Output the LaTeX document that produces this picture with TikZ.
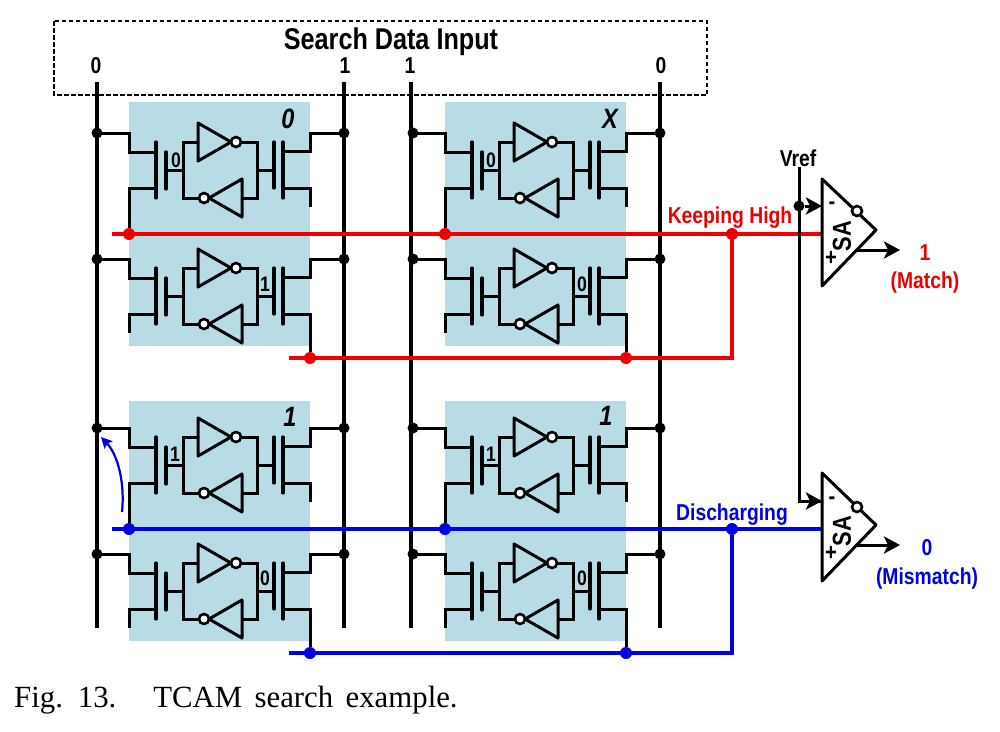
\documentclass[tikz,border=0pt]{standalone}
\usepackage{fontspec}
\usepackage{xcolor}
\usetikzlibrary{arrows.meta,positioning,calc}
\newfontfamily\labelfont{Liberation Sans}[FakeStretch=0.84]
\newfontfamily\captionfont{Liberation Serif}[WordSpace=1.6]
\definecolor{cellblue}{HTML}{B7DCE6}
\definecolor{mlred}{HTML}{EE0000}
\definecolor{mlblue}{HTML}{0000E6}

\tikzset{
    wire/.style={line width=3pt, line join=miter},
    rail/.style={line width=3.3pt},
    gatebar/.style={line width=3.2pt, line cap=round},
    bubble/.style={circle, draw, fill=white, line width=2.6pt, minimum size=10pt, inner sep=0pt},
    dotk/.style={circle, fill=black, minimum size=11pt, inner sep=0pt},
    dotr/.style={circle, fill=mlred, minimum size=12pt, inner sep=0pt},
    dotb/.style={circle, fill=mlblue, minimum size=12pt, inner sep=0pt},
    arr/.style={-{Stealth[length=16pt, width=17pt, inset=4pt]}, wire},
    redln/.style={line width=3.4pt, draw=mlred},
    bluln/.style={line width=3.4pt, draw=mlblue},
    txt/.style={inner sep=0pt, font=\labelfont\bfseries\fontsize{23}{25}\selectfont},
    bit/.style={inner sep=0pt, font=\labelfont\bfseries\fontsize{23}{25}\selectfont},
    stored/.style={inner sep=0pt, font=\labelfont\bfseries\fontsize{21}{23}\selectfont},
    care/.style={inner sep=0pt, font=\labelfont\bfseries\itshape\fontsize{28}{30}\selectfont},
    sign/.style={inner sep=0pt, font=\labelfont\bfseries\fontsize{24}{26}\selectfont},
    samp/.style={inner sep=0pt, rotate=90, font=\labelfont\bfseries\fontsize{26}{28}\selectfont},
    tcamhalf/.pic={
        % left access transistor
        \node[dotk] (-bl) at (0,0) {};
        \coordinate (-ls) at (32,74);
        \draw[wire] (-bl.center) -- (32,0) -- (32,19) -- (59,19);
        \draw[wire] (59,55) -- (32,55) -- (-ls);
        \draw[gatebar] (59,9) -- (59,65);
        \draw[gatebar] (69,19) -- (69,56);
        \draw[wire] (69,37.5) -- (86,37.5);
        % storage
        \draw[wire] (101,9) -- (86,9) -- (86,65) -- (102,65);
        \draw[wire, line join=round] (101,-10) -- (101,28) -- (134,9) -- cycle;
        \draw[wire, line join=round] (145,46) -- (145,84) -- (112,65) -- cycle;
        \draw[wire] (144,9) -- (160,9) -- (160,65) -- (145,65);
        \node[bubble] (-qa) at (139,9) {};
        \node[bubble] (-qb) at (107,65) {};
        % right access transistor
        \node[dotk] (-br) at (247,0) {};
        \coordinate (-rs) at (213,74);
        \draw[wire] (160,37) -- (177,37);
        \draw[gatebar] (177,9) -- (177,55);
        \draw[gatebar] (186,9) -- (186,65);
        \draw[wire] (186,18) -- (213,18) -- (213,0) -- (-br.center);
        \draw[wire] (186,55) -- (213,55) -- (-rs);
    },
    x=1pt, y=-1pt
}

\begin{document}
\begin{tikzpicture}
    \useasboundingbox (0,0) rectangle (1000,731);

    % Cell backgrounds
    \fill[cellblue] (129,102) rectangle (310,346);
    \fill[cellblue] (445,102) rectangle (626,346);
    \fill[cellblue] (129,401) rectangle (310,641);
    \fill[cellblue] (445,401) rectangle (626,641);

    % Search data
    \draw[line width=2pt, dash pattern=on 4.5pt off 2.5pt] (54,21) rectangle (707,95);
    \node[txt, font=\labelfont\bfseries\fontsize{30}{32}\selectfont] (title) at (391,42) {Search Data Input};
    \node[bit] (d1) at (96,66) {0};
    \node[bit] (d2) at (345,66) {1};
    \node[bit] (d3) at (410,66) {1};
    \node[bit] (d4) at (661,66) {0};

    % Bit lines
    \coordinate (e1) at (97,628);
    \coordinate (e2) at (344,628);
    \coordinate (e3) at (411,628);
    \coordinate (e4) at (660,628);
    \draw[rail] (97,82) -- (e1);
    \draw[rail] (344,82) -- (e2);
    \draw[rail] (411,82) -- (e3);
    \draw[rail] (660,82) -- (e4);

    % Cells
    \pic (at) at (97,133) {tcamhalf};
    \pic (ab) at (97,259) {tcamhalf};
    \pic (bt) at (413,133) {tcamhalf};
    \pic (bb) at (413,259) {tcamhalf};
    \pic (ct) at (97,428) {tcamhalf};
    \pic (cb) at (97,554) {tcamhalf};
    \pic (dt) at (413,428) {tcamhalf};
    \pic (db) at (413,554) {tcamhalf};

    % Stored bits
    \node[stored] (s1) at (176,160) {0};
    \node[stored] (s2) at (265,284) {1};
    \node[stored] (s3) at (491,160) {0};
    \node[stored] (s4) at (582,284) {0};
    \node[stored] (s5) at (175,454) {1};
    \node[stored] (s6) at (265,578) {0};
    \node[stored] (s7) at (491,454) {1};
    \node[stored] (s8) at (582,578) {0};
    \node[care] (v1) at (288,119) {0};
    \node[care] (v2) at (610,119) {X};
    \node[care] (v3) at (290,417) {1};
    \node[care] (v4) at (606,416) {1};

    % Sense amps
    \coordinate (sa1a) at (822,179);
    \coordinate (sa1b) at (822,286);
    \coordinate (sa1c) at (876,230);
    \coordinate (sa2a) at (822,473);
    \coordinate (sa2b) at (822,581);
    \coordinate (sa2c) at (876,525);
    \coordinate (sa1m) at (822,206);
    \coordinate (sa1p) at (822,234);
    \coordinate (sa2m) at (822,501);
    \coordinate (sa2p) at (822,529);

    % Match lines
    \node[dotr] (r1) at (129,234) {};
    \node[dotr] (r2) at (445,234) {};
    \node[dotr] (r3) at (732,234) {};
    \node[dotr] (r4) at (310,358) {};
    \node[dotr] (r5) at (626,358) {};
    \coordinate (r0) at (112,234);
    \coordinate (r6) at (289,358);
    \draw[wire] (at-ls) -- (r1);
    \draw[wire] (bt-ls) -- (r2);
    \draw[wire] (ab-rs) -- (r4);
    \draw[wire] (bb-rs) -- (r5);
    \draw[redln] (r0) -- (sa1p);
    \draw[redln] (r6) -- (732,358) -- (r3);

    \node[dotb] (u1) at (129,529) {};
    \node[dotb] (u2) at (445,529) {};
    \node[dotb] (u3) at (732,529) {};
    \node[dotb] (u4) at (310,653) {};
    \node[dotb] (u5) at (626,653) {};
    \coordinate (u0) at (112,529);
    \coordinate (u6) at (289,653);
    \draw[wire] (ct-ls) -- (u1);
    \draw[wire] (dt-ls) -- (u2);
    \draw[wire] (cb-rs) -- (u4);
    \draw[wire] (db-rs) -- (u5);
    \draw[bluln] (u0) -- (sa2p);
    \draw[bluln] (u6) -- (732,653) -- (u3);

    % Discharge path
    \coordinate (c1) at (122,512);
    \coordinate (c2) at (101,437);
    \draw[-{Stealth[length=11pt, width=11pt, inset=2pt]}, line width=2.2pt, draw=mlblue, mlblue] (c1) .. controls (125,483) and (118,455) .. (c2);

    % Vref
    \node[txt] (vref) at (798,158) {Vref};
    \node[dotk] (vd) at (799,206) {};
    \draw[wire] (799,167) -- (799,501) -- (sa2m);
    \draw[arr] (vd) -- (sa1m);
    \draw[arr] (799,501) -- (sa2m);

    \draw[wire, line join=round] (sa1a) -- (sa1b) -- (sa1c) -- cycle;
    \draw[wire, line join=round] (sa2a) -- (sa2b) -- (sa2c) -- cycle;
    \node[bubble] (b1) at (857,211) {};
    \node[bubble] (b2) at (857,507) {};
    \node[samp] (sa1) at (842,236) {SA};
    \node[samp] (sa2) at (842,531) {SA};
    \node[sign] (m1) at (832,206) {-};
    \node[sign] (p1) at (831,258) {+};
    \node[sign] (m2) at (832,501) {-};
    \node[sign] (p2) at (831,553) {+};

    % Outputs
    \coordinate (o1) at (855,250);
    \coordinate (o2) at (855,545);
    \node[txt, mlred] (hi) at (925,253) {1};
    \node[txt, mlred, below=11pt of hi] (match) {(Match)};
    \node[txt, mlblue] (lo) at (927,548) {0};
    \node[txt, mlblue, below=11pt of lo] (mism) {(Mismatch)};
    \draw[arr] (o1) -- ++(45,0) coordinate (o1e);
    \draw[arr] (o2) -- ++(45,0) coordinate (o2e);

    % Line labels
    \node[txt, mlred] (keep) at (730,218) {Keeping High};
    \node[txt, mlblue] (disc) at (732,515) {Discharging};

    % Caption
    \node[anchor=base west, inner sep=0pt, font=\captionfont\fontsize{30.8}{32}\selectfont] (cap) at (14,707) {Fig. 13.\hspace{37pt}TCAM search example.};
\end{tikzpicture}
\end{document}
